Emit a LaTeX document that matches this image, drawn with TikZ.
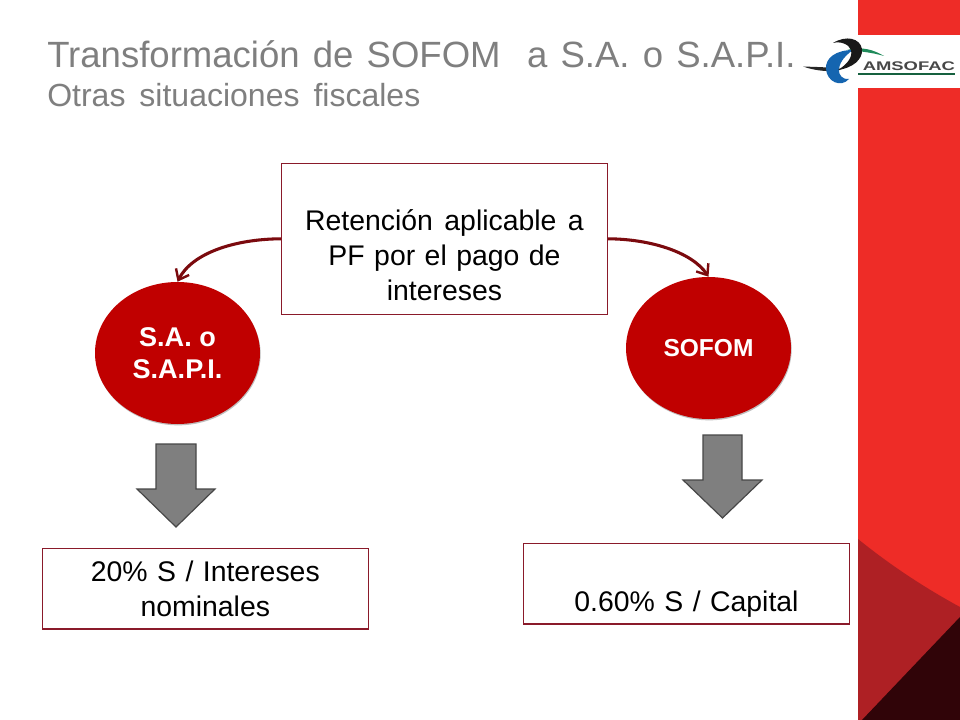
\documentclass[tikz,border=0pt]{standalone}
\usepackage{fontspec}
\setmainfont{Liberation Sans}
\newfontfamily\logofont[FakeStretch=1.47]{Liberation Sans}
\usetikzlibrary{arrows.meta,shadows,calc,shapes.geometric}
\definecolor{sidered}{HTML}{EE2C27}
\definecolor{midred}{HTML}{AE2024}
\definecolor{darkred}{HTML}{300408}
\definecolor{ballred}{HTML}{C00000}
\definecolor{boxline}{HTML}{8A1A2A}
\definecolor{arrowred}{HTML}{7B0A0E}
\definecolor{titlegray}{HTML}{7F7F7F}
\definecolor{arrowgray}{HTML}{7F7F7F}
\definecolor{logoblue}{HTML}{1565B0}
\definecolor{logogreen}{HTML}{1F8A5A}
\tikzset{
  x=0.75pt,y=-0.75pt,
  textbox/.style={draw=boxline,line width=0.9pt,fill=white,align=center,inner sep=0pt,text width=240pt,font=\fontsize{21.3}{26.2}\selectfont,text=black},
  ball/.style={ellipse,fill=ballred,text=white,align=center,inner sep=0pt,minimum width=123.75pt,minimum height=106.5pt,
     drop shadow={shadow xshift=0.5pt,shadow yshift=-1pt,fill=black,opacity=0.25}},
  link/.style={draw=arrowred,line width=2.3pt,-{Straight Barb[length=7pt,width=11pt,line width=1.8pt]}},
  downarrow/.style={draw=black!72,line width=0.9pt,fill=arrowgray,line join=miter},
  titlea/.style={anchor=base west,inner sep=0pt,text=titlegray},
}
\begin{document}
\begin{tikzpicture}
\useasboundingbox (0,0) rectangle (960,720);
\fill[white] (0,0) rectangle (960,720);
% side band
\fill[sidered] (858,0) rectangle (960,720);
\fill[white] (858,35) rectangle (960,88);
\fill[midred] (858,539) .. controls (890,565) and (925,588) .. (960,607) -- (960,720) -- (858,720) -- cycle;
\fill[darkred] (960,617) -- (862,720) -- (960,720) -- cycle;
% title
\node[titlea,font=\fontsize{27.4}{32}\selectfont] (title) at (47,67.2) {\spaceskip=9.9pt Transformación de SOFOM\ \ a S.A. o S.A.P.I.};
\node[titlea,font=\fontsize{24}{28}\selectfont] (subtitle) at (47,107) {\spaceskip=10.5pt Otras situaciones fiscales};
% logo
\fill[black!85] (803,66.5) .. controls (815,67) and (828,67) .. (842,69) .. controls (835,73) and (815,71) .. (803,66.5) -- cycle;
\fill[logogreen] (847,50) .. controls (862,46) and (874,50) .. (884,56) .. controls (872,52.5) and (862,51.5) .. (847,50) -- cycle;
\fill[logoblue] (853,50) .. controls (836,50) and (825,58) .. (826,69) .. controls (827,82) and (841,88) .. (849,79) .. controls (843,80) and (838,75) .. (839,69) .. controls (840,61) and (846,55) .. (853,50) -- cycle;
\fill[black!90] (833,43) .. controls (846,35) and (860,38) .. (862,49) .. controls (863,60) and (852,68) .. (838,70) .. controls (846,65) and (853,58) .. (851,50) .. controls (849,44) and (840,41) .. (833,43) -- cycle;
\node[anchor=base west,inner sep=0pt,text=black!72,font=\logofont\bfseries\fontsize{9.4}{11}\selectfont] (logotext) at (862.5,71) {AMSOFAC};
\fill[logogreen!70!black] (858,73.5) rectangle (955,75);
% boxes
\node[textbox,minimum width=244.2pt,minimum height=113.4pt] (top) at (444.5,238.8) {\rule{0pt}{40.4pt}Retención\hspace{1.5pt} aplicable\hspace{1.5pt} a\\PF por el pago de\\intereses};
\node[textbox,minimum width=244.5pt,minimum height=60.5pt] (bl) at (205.3,588.6) {\rule{0pt}{16.5pt}20\% S / Intereses\\nominales};
\node[textbox,minimum width=244.5pt,minimum height=60.5pt] (br) at (686.5,583.7) {\rule[-4.5pt]{0pt}{50.2pt}0.60\% S / Capital};
% ellipses
\node[ball,font=\bfseries\fontsize{20.3}{24}\selectfont] (sa) at (177.5,353) {S.A. o\\S.A.P.I.};
\node[ball,font=\bfseries\fontsize{18.4}{22}\selectfont] (sofom) at (708.5,348) {SOFOM};
% connectors
\draw[link] (top.west) .. controls (235,239) and (192,253) .. (sa.north);
\draw[link] (top.east) .. controls (650,239) and (692,252) .. (sofom.north);
% block arrows
\draw[downarrow] (156,444) -- (196,444) -- (196,489) -- (215,489) -- (176,527) -- (137,489) -- (156,489) -- cycle;
\draw[downarrow] (703,435) -- (742,435) -- (742,480) -- (762,480) -- (722.5,518) -- (683,480) -- (703,480) -- cycle;
\end{tikzpicture}
\end{document}
